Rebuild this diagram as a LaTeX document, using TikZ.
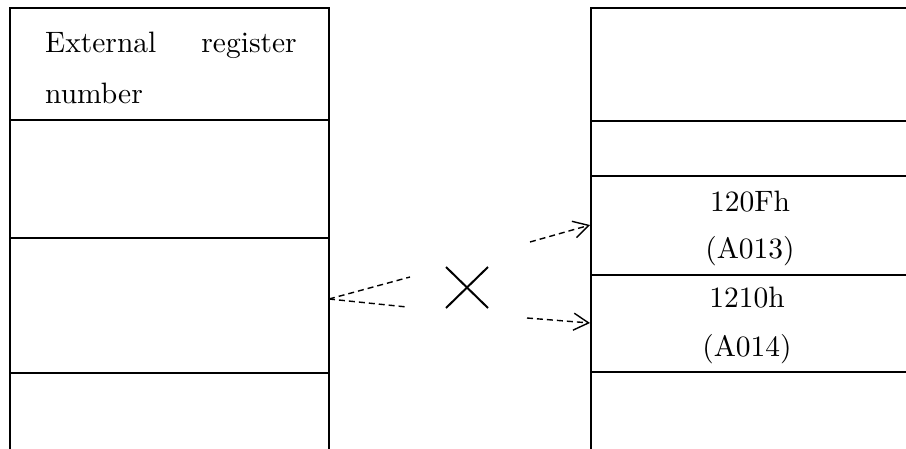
\documentclass[tikz,border=0pt]{standalone}
\usepackage{fontspec}
\setmainfont{lmroman10-regular.otf}
\usetikzlibrary{arrows.meta}
\begin{document}
\begin{tikzpicture}[x=1pt,y=-1pt,
  boxline/.style={line width=1.6pt},
  lbl/.style={font=\fontsize{29.5}{35}\selectfont, inner sep=0pt},
  dsh/.style={line width=1.4pt, dash pattern=on 6pt off 4pt},
  arr/.style={dsh, -{Straight Barb[length=15pt,width=17pt,line width=1.4pt]}},
  crossline/.style={line width=2pt}]
\useasboundingbox (0,0) rectangle (906,448);
\clip (0,0) rectangle (906,448);
% left column
\draw[boxline] (10,470) -- (10,8) -- (329,8) -- (329,470);
\foreach \y in {120,238,373} \draw[boxline] (10,\y) -- (329,\y);
% right column
\draw[boxline] (591,470) -- (591,8) -- (915,8);
\foreach \y in {121,176,275,372} \draw[boxline] (591,\y) -- (915,\y);
% texts
\node[lbl, anchor=base west] (ext) at (45,52) {External};
\node[lbl, anchor=base east] (reg) at (297,52) {register};
\node[lbl, anchor=base west] (num) at (45,103) {number};
\node[lbl, anchor=base] (h1) at (750,211) {120Fh};
\node[lbl, anchor=base] (a1) at (750,258) {(A013)};
\node[lbl, anchor=base] (h2) at (747,307) {1210h};
\node[lbl, anchor=base] (a2) at (747,356) {(A014)};
% connectors
\coordinate (src) at (329,299);
\coordinate (u1) at (410,277);
\coordinate (l1) at (407,307);
\draw[dsh] (src) -- (u1);
\draw[dsh] (src) -- (l1);
\coordinate (c1) at (446,267);
\coordinate (c2) at (488,308);
\coordinate (c3) at (488,267);
\coordinate (c4) at (446,308);
\draw[crossline] (c1) -- (c2);
\draw[crossline] (c3) -- (c4);
\coordinate (s1) at (530,242);
\coordinate (e1) at (590,225);
\coordinate (s2) at (527,318);
\coordinate (e2) at (590,323);
\draw[arr] (s1) -- (e1);
\draw[arr] (s2) -- (e2);
\end{tikzpicture}
\end{document}
